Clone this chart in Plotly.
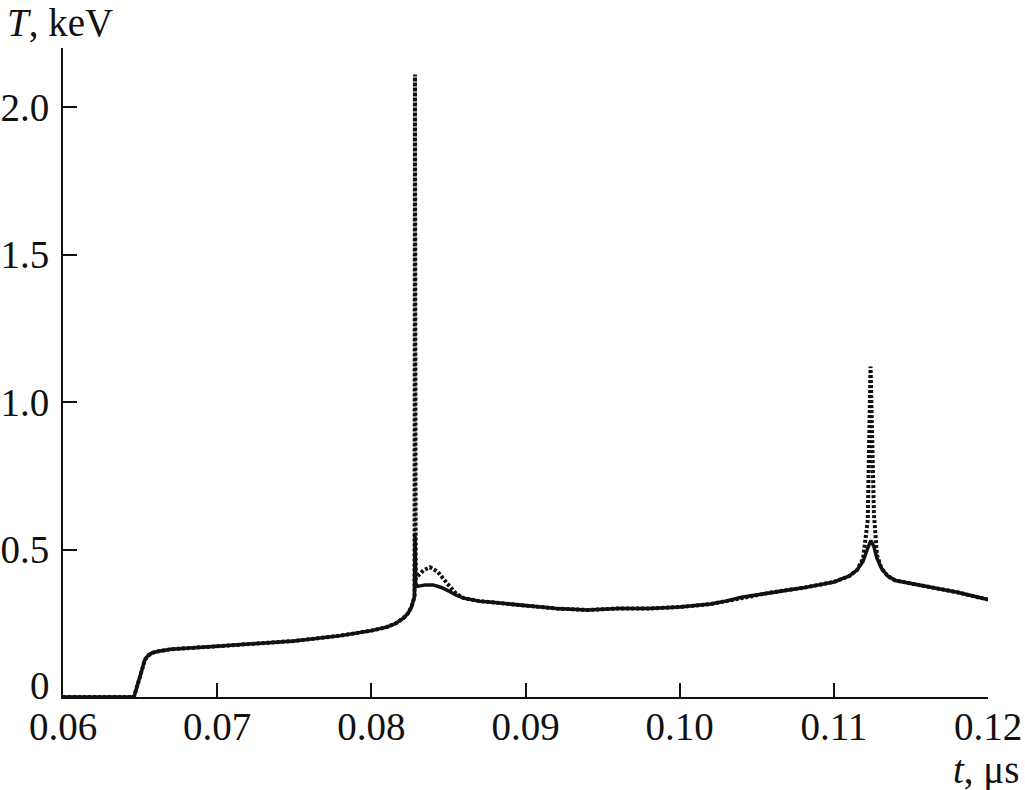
import plotly.graph_objects as go

# Solid curve
t_solid = [0.0600, 0.0646, 0.0650, 0.0653, 0.0655, 0.0658, 0.0662, 0.0670, 0.0700,
           0.0750, 0.0780, 0.0800, 0.0810, 0.0816, 0.0821, 0.0824, 0.0826, 0.0828,
           0.08283, 0.08288, 0.0830, 0.0835, 0.0840, 0.0845, 0.0850, 0.0855, 0.0860,
           0.0870, 0.0880, 0.0900, 0.0920, 0.0940, 0.0960, 0.0980, 0.1000, 0.1020,
           0.1030, 0.1040, 0.1060, 0.1080, 0.1100, 0.1110, 0.1115, 0.1119, 0.1122,
           0.1124, 0.1126, 0.1128, 0.1131, 0.1135, 0.1140, 0.1160, 0.1180, 0.1200]
T_solid = [0.0, 0.0, 0.07, 0.125, 0.140, 0.150, 0.155, 0.162, 0.172,
           0.190, 0.208, 0.225, 0.237, 0.250, 0.268, 0.285, 0.305, 0.340,
           0.555, 0.385, 0.375, 0.380, 0.380, 0.372, 0.360, 0.345, 0.335,
           0.325, 0.320, 0.310, 0.300, 0.295, 0.300, 0.300, 0.305, 0.315,
           0.325, 0.338, 0.355, 0.370, 0.390, 0.410, 0.430, 0.460, 0.505,
           0.530, 0.510, 0.470, 0.435, 0.410, 0.395, 0.375, 0.355, 0.330]

# Dotted curve
t_dot = [0.0600, 0.0646, 0.0650, 0.0653, 0.0655, 0.0658, 0.0662, 0.0670, 0.0700,
         0.0750, 0.0780, 0.0800, 0.0810, 0.0816, 0.0821, 0.0824, 0.0826, 0.0828,
         0.08283, 0.08288, 0.0830, 0.0834, 0.0838, 0.0843, 0.0849, 0.0855, 0.0860,
         0.0870, 0.0880, 0.0900, 0.0920, 0.0940, 0.0960, 0.0980, 0.1000, 0.1020,
         0.1030, 0.1040, 0.1060, 0.1080, 0.1100, 0.1110, 0.1115, 0.1119, 0.1122,
         0.11238, 0.1126, 0.1128, 0.1131, 0.1135, 0.1140, 0.1160, 0.1180, 0.1200]
T_dot = [0.0, 0.0, 0.07, 0.125, 0.140, 0.150, 0.155, 0.162, 0.172,
         0.190, 0.208, 0.225, 0.237, 0.250, 0.268, 0.285, 0.305, 0.340,
         2.110, 0.400, 0.410, 0.430, 0.440, 0.425, 0.386, 0.350, 0.335,
         0.325, 0.320, 0.310, 0.300, 0.295, 0.300, 0.300, 0.305, 0.315,
         0.325, 0.338, 0.355, 0.370, 0.390, 0.410, 0.430, 0.470, 0.600,
         1.120, 0.620, 0.480, 0.435, 0.410, 0.395, 0.375, 0.355, 0.330]

x_ticks = [0.06, 0.07, 0.08, 0.09, 0.10, 0.11, 0.12]
x_labels = ["0.06", "0.07", "0.08", "0.09", "0.10", "0.11", "0.12"]
y_ticks = [0, 0.5, 1.0, 1.5, 2.0]
y_labels = ["", "0.5", "1.0", "1.5", "2.0"]
y_zero_label = "0"

font = "Liberation Serif, Times New Roman, serif"
ink = "#111111"
fs = 39

fig = go.Figure()
fig.add_trace(go.Scatter(x=t_solid, y=T_solid, mode="lines",
                         line=dict(color=ink, width=3.5), showlegend=False))
fig.add_trace(go.Scatter(x=t_dot, y=T_dot, mode="lines",
                         line=dict(color=ink, width=4, dash="3px,2px"), showlegend=False))

fig.update_layout(
    width=1025, height=790,
    margin=dict(l=63, r=37, t=48, b=93, autoexpand=False),
    paper_bgcolor="white", plot_bgcolor="white",
    font=dict(family=font, size=fs, color=ink),
    xaxis=dict(range=[0.06, 0.12], tickvals=x_ticks, ticktext=x_labels,
               ticks="inside", ticklen=14, tickwidth=2, tickcolor=ink,
               ticklabelstandoff=-6,
               showline=True, linecolor=ink, linewidth=2, automargin=False,
               showgrid=False, zeroline=False, mirror=False),
    yaxis=dict(range=[0, 2.2], tickvals=y_ticks, ticktext=y_labels,
               ticks="inside", ticklen=14, tickwidth=2, tickcolor=ink,
               ticklabelstandoff=4,
               showline=True, linecolor=ink, linewidth=2, automargin=False,
               showgrid=False, zeroline=False, mirror=False),
    annotations=[
        dict(text=y_zero_label, xref="paper", yref="y", x=0, y=0, xshift=-11, yshift=12,
             xanchor="right", yanchor="middle", showarrow=False,
             font=dict(family=font, size=fs)),
        dict(text="<i>T</i>, keV", xref="paper", yref="paper", x=-0.063, y=1.04,
             xanchor="left", yanchor="middle", showarrow=False,
             font=dict(family=font, size=fs)),
        dict(text="<i>t</i>, μs", xref="paper", yref="paper", x=1.036, y=-0.112,
             xanchor="right", yanchor="middle", showarrow=False,
             font=dict(family=font, size=fs)),
    ],
)

fig.write_html("out.html", config={"displayModeBar": False},
               post_script="document.body.style.margin='0';document.body.style.overflow='hidden';")
